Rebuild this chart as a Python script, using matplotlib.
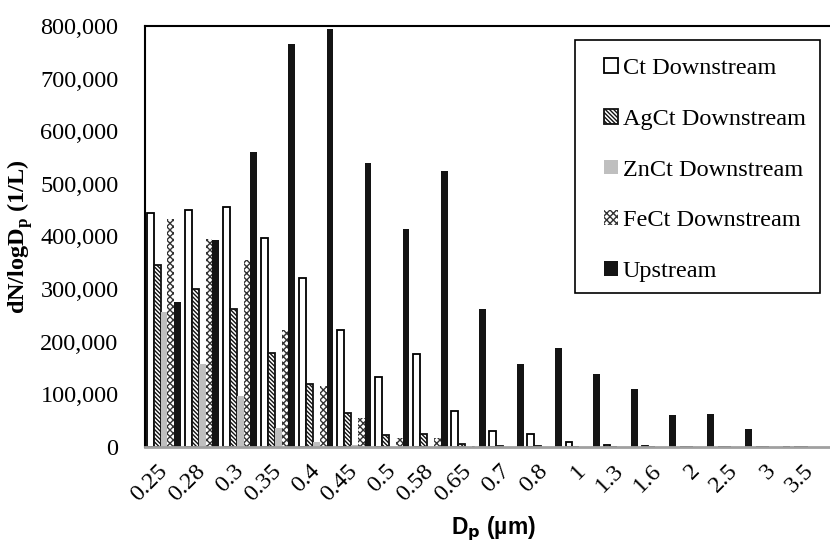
import numpy as np
import matplotlib.pyplot as plt
from matplotlib.patches import Rectangle
from matplotlib.ticker import FuncFormatter

# Werte
sizes = ['0.25', '0.28', '0.3', '0.35', '0.4', '0.45', '0.5', '0.58', '0.65',
         '0.7', '0.8', '1', '1.3', '1.6', '2', '2.5', '3', '3.5']
ct = [445000, 450000, 456000, 398000, 322000, 222000, 133000, 176000, 68000,
      30000, 24000, 10000, 4000, 1000, 500, 300, 200, 100]
ag = [345000, 301000, 262000, 178000, 119000, 64000, 23000, 25000, 5000,
      1500, 1000, 500, 300, 200, 100, 100, 50, 50]
zn = [257000, 157000, 97000, 37000, 10000, 3000, 500, 300, 200,
      100, 100, 50, 50, 0, 0, 0, 0, 0]
fe = [433000, 395000, 356000, 222000, 115000, 56000, 18000, 18000, 2000,
      500, 300, 200, 100, 50, 0, 0, 0, 0]
up = [275000, 393000, 561000, 765000, 795000, 539000, 415000, 524000, 262000,
      158000, 189000, 139000, 110000, 61000, 63000, 34000, 1000, 500]

serif = ['Liberation Serif', 'DejaVu Serif']
narrow = ['Liberation Sans Narrow', 'Liberation Sans', 'DejaVu Sans']
plt.rcParams['mathtext.fontset'] = 'custom'
plt.rcParams['mathtext.rm'] = 'Liberation Serif'
plt.rcParams['mathtext.bf'] = 'Liberation Serif:bold'
plt.rcParams['mathtext.sf'] = 'Liberation Sans Narrow:bold'


def hatch_lw(artist, lw):
    # Schraffur-Linienbreite pro Artist (wird beim Zeichnen aus rcParams gelesen)
    orig = artist.draw

    def draw(renderer):
        with plt.rc_context({'hatch.linewidth': lw}):
            orig(renderer)
    artist.draw = draw


fig = plt.figure(figsize=(8.3, 5.46), dpi=100)
ax = fig.add_axes([145/830, 1-447/546, 685/830, 421/546])

x = np.arange(len(sizes))
w = 0.18

ax.bar(x - 2*w, ct, w, color='white', edgecolor='black', linewidth=1.3,
       label='Ct Downstream')
b_ag = ax.bar(x - w, ag, w, color='white', edgecolor='#111111', linewidth=1.3,
              hatch='\\'*8, label='AgCt Downstream')
ax.bar(x, zn, w, color='#bfbfbf', linewidth=0, label='ZnCt Downstream')
b_fe = ax.bar(x + w, fe, w, color='white', edgecolor='#333333', linewidth=0,
              hatch='x'*5, label='FeCt Downstream')
ax.bar(x + 2*w, up, w, color='#141414', linewidth=0, label='Upstream')
for p in b_ag:
    hatch_lw(p, 2.5)
for p in b_fe:
    hatch_lw(p, 0.7)

ax.set_xlim(-0.5, len(sizes) - 0.5)
ax.set_ylim(0, 800000)
ax.set_yticks(np.arange(0, 800001, 100000))
ax.yaxis.set_major_formatter(FuncFormatter(lambda v, p: f'{int(v):,}'))
ax.set_xticks(x)
ax.set_xticklabels(sizes, rotation=45, ha='right', va='center',
                   rotation_mode='anchor', family=serif, fontsize=17.5)
for lab in ax.get_yticklabels():
    lab.set_family(serif)
    lab.set_fontsize(17.5)
ax.tick_params(axis='both', length=0)
ax.tick_params(axis='x', pad=15)
ax.tick_params(axis='y', pad=19)

for s in ['left', 'top']:
    ax.spines[s].set_color('black')
    ax.spines[s].set_linewidth(1.5)
ax.spines['right'].set_visible(False)
ax.spines['bottom'].set_color('#a0a0a0')
ax.spines['bottom'].set_linewidth(2)

ax.set_ylabel(r'dN/logD$_\mathbf{p}$ (1/L)', family=serif, fontsize=17.5,
              fontweight='bold', labelpad=4)
ax.set_xlabel(r'D$_\mathsf{p}$ (µm)', family=narrow, fontsize=16.5,
              fontweight='bold')
ax.xaxis.set_label_coords(0.508, -0.16)

leg = ax.legend(loc='upper left', bbox_to_anchor=(590/830, 1-44/546),
                bbox_transform=fig.transFigure, prop={'family': serif, 'size': 17.5},
                frameon=False, handlelength=0.55, handleheight=0.55,
                handletextpad=0.2, labelspacing=1.22, borderpad=0.59,
                borderaxespad=0)
hs = leg.legend_handles
hatch_lw(hs[1], 2.0)
hatch_lw(hs[3], 0.7)
# Legendenrahmen
fig.add_artist(Rectangle((575/830, 1-293/546), 245/830, 253/546,
                         transform=fig.transFigure, fill=False,
                         edgecolor='black', linewidth=1.2))

plt.savefig('out.png', dpi=100)
